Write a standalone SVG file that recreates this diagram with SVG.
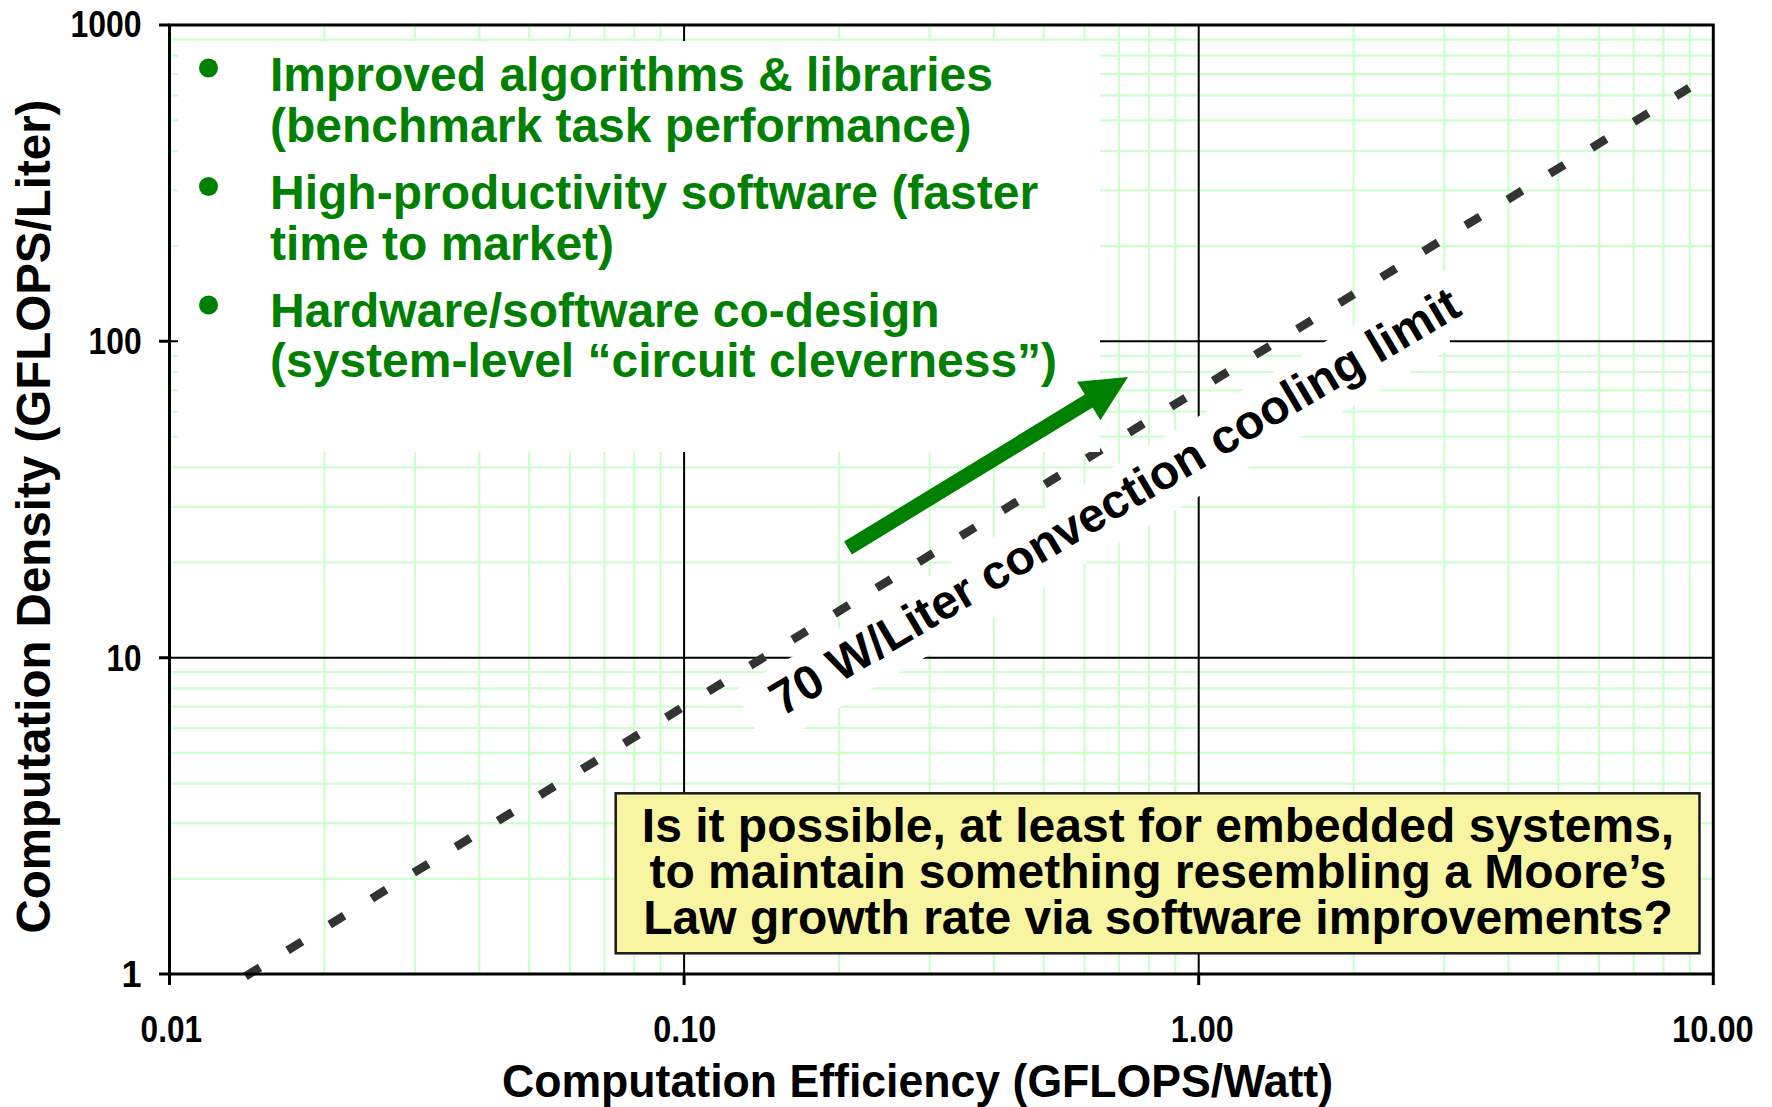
<svg xmlns="http://www.w3.org/2000/svg" width="1772" height="1107" viewBox="0 0 1772 1107">
<style>
text{font-family:"Liberation Sans",Arial,sans-serif;font-weight:bold}
.minor{stroke:#ccffcc;stroke-width:2.2;fill:none}
.major{stroke:#000;stroke-width:2;fill:none}
.axis{stroke:#000;stroke-width:3;fill:none}
.tick{font-size:36px;fill:#000}
.note{font-size:48px;fill:#008000}
.q{font-size:48px;fill:#000;text-anchor:middle}
</style>
<rect width="1772" height="1107" fill="#fff"/>
<g id="grid">
<path class="minor" d="M324.4 25V974M415 25V974M479.3 25V974M529.2 25V974M569.9 25V974M604.4 25V974M634.2 25V974M660.6 25V974M839 25V974M929.6 25V974M993.9 25V974M1043.8 25V974M1084.5 25V974M1119 25V974M1148.8 25V974M1175.2 25V974M1353.6 25V974M1444.2 25V974M1508.5 25V974M1558.4 25V974M1599.1 25V974M1633.6 25V974M1663.4 25V974M1689.8 25V974"/>
<path class="minor" d="M169.5 878.8H1713.3M169.5 823.1H1713.3M169.5 783.6H1713.3M169.5 752.9H1713.3M169.5 727.9H1713.3M169.5 706.7H1713.3M169.5 688.3H1713.3M169.5 672.2H1713.3M169.5 562.5H1713.3M169.5 506.8H1713.3M169.5 467.3H1713.3M169.5 436.6H1713.3M169.5 411.6H1713.3M169.5 390.4H1713.3M169.5 372H1713.3M169.5 355.9H1713.3M169.5 246.2H1713.3M169.5 190.5H1713.3M169.5 151H1713.3M169.5 120.3H1713.3M169.5 95.3H1713.3M169.5 74.1H1713.3M169.5 55.7H1713.3M169.5 39.6H1713.3"/>
<path class="major" d="M684.1 25V974M1198.7 25V974M169.5 341.3H1713.3M169.5 657.7H1713.3"/>
</g>
<g id="limit-line">
<line x1="245.5" y1="976.3" x2="1689.3" y2="87.8" stroke="#333" stroke-width="8.5" stroke-dasharray="17 32.4"/>
</g>
<g id="limit-label">
<polygon points="734,691 1448,269 1450,349 767,750" fill="#fff"/>
<text transform="translate(782 717) rotate(-30.6)" font-size="48" fill="#000">70 W/Liter convection cooling limit</text>
</g>
<g id="notes">
<rect x="178" y="41" width="922" height="411" fill="#fff"/>
<circle cx="208.5" cy="68" r="9.5" fill="#008000"/>
<circle cx="208.5" cy="186.5" r="9.5" fill="#008000"/>
<circle cx="208.5" cy="305" r="9.5" fill="#008000"/>
<text class="note" x="270" y="91">Improved algorithms &amp; libraries</text>
<text class="note" x="270" y="142">(benchmark task performance)</text>
<text class="note" x="270" y="208.5">High-productivity software (faster</text>
<text class="note" x="270" y="259.5">time to market)</text>
<text class="note" x="270" y="326.5">Hardware/software co-design</text>
<text class="note" x="270" y="376.5">(system-level “circuit cleverness”)</text>
</g>
<g id="trend-arrow">
<polygon points="851.9,554.4 1092.6,407.4 1100.4,420.2 1128,377 1077,381.8 1084.8,394.6 844.1,541.6" fill="#008000"/>
</g>
<g id="question">
<rect x="615.7" y="793.3" width="1083.8" height="160" fill="#f7f4a2" stroke="#1a1a1a" stroke-width="2.5"/>
<text class="q" x="1158" y="842">Is it possible, at least for embedded systems,</text>
<text class="q" x="1158" y="888">to maintain something resembling a Moore’s</text>
<text class="q" x="1158" y="934">Law growth rate via software improvements?</text>
</g>
<g id="axes">
<rect class="axis" x="169.5" y="25" width="1543.8" height="949"/>
<path class="axis" d="M159 25H169.5M159 341.3H169.5M159 657.7H169.5M159 974H169.5M169.5 974V985M684.1 974V985M1198.7 974V985M1713.3 974V985"/>
<text class="tick" x="141.6" y="37" text-anchor="end" textLength="71" lengthAdjust="spacingAndGlyphs">1000</text>
<text class="tick" x="141.6" y="354" text-anchor="end" textLength="53" lengthAdjust="spacingAndGlyphs">100</text>
<text class="tick" x="141.6" y="670.5" text-anchor="end" textLength="35" lengthAdjust="spacingAndGlyphs">10</text>
<text class="tick" x="141.6" y="987" text-anchor="end">1</text>
<text class="tick" x="140.6" y="1042" textLength="61.5" lengthAdjust="spacingAndGlyphs">0.01</text>
<text class="tick" x="653.3" y="1042" textLength="63" lengthAdjust="spacingAndGlyphs">0.10</text>
<text class="tick" x="1170.8" y="1042" textLength="63" lengthAdjust="spacingAndGlyphs">1.00</text>
<text class="tick" x="1672" y="1042" textLength="81.7" lengthAdjust="spacingAndGlyphs">10.00</text>
<text x="502" y="1097" font-size="46" textLength="831" lengthAdjust="spacingAndGlyphs">Computation Efficiency (GFLOPS/Watt)</text>
<text transform="translate(50 516.5) rotate(-90)" font-size="47.5" text-anchor="middle">Computation Density (GFLOPS/Liter)</text>
</g>
</svg>
